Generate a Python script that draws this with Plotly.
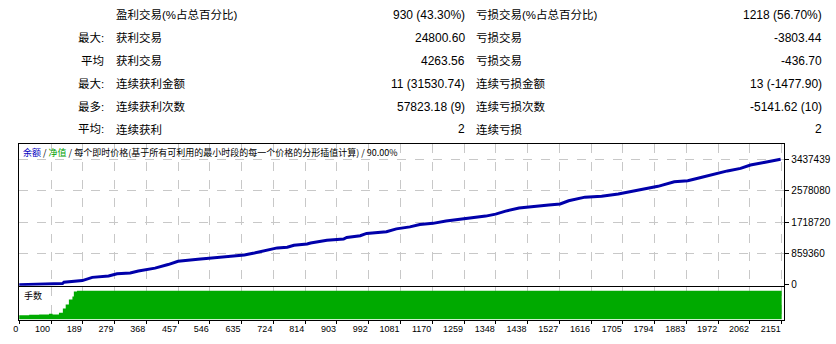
import plotly.graph_objects as go

# ---------------- data ----------------
trade_no = [0, 122, 126, 178, 206, 252, 276, 313, 336, 383, 420, 448, 504, 542, 588, 635,
            663, 700, 728, 756, 775, 812, 822, 868, 915, 924, 962, 980, 1036, 1064, 1102,
            1130, 1167, 1204, 1237, 1270, 1316, 1344, 1372, 1410, 1456, 1494, 1526, 1550,
            1596, 1643, 1690, 1727, 1765, 1802, 1848, 1886, 1923, 1961, 1998, 2035, 2063,
            2101, 2148]
balance = [10000, 40000, 75000, 121000, 209000, 247000, 309000, 328000, 381000, 462000,
           559000, 650000, 704000, 739000, 784000, 819000, 873000, 961000, 1015000,
           1034000, 1088000, 1123000, 1149000, 1222000, 1257000, 1302000, 1348000,
           1410000, 1456000, 1536000, 1590000, 1652000, 1686000, 1751000, 1786000,
           1840000, 1885000, 1939000, 2020000, 2108000, 2162000, 2189000, 2216000,
           2304000, 2403000, 2430000, 2492000, 2565000, 2637000, 2699000, 2825000,
           2852000, 2941000, 3040000, 3121000, 3190000, 3282000, 3352000, 3437439]

lots_trade = [0, 28, 56, 84, 94, 112, 123, 131, 140, 150, 154, 163, 2151]
lots = [1.4, 1.55, 1.7, 1.9, 1.7, 2.3, 3.8, 5.2, 6.9, 8.0, 9.7, 10.0, 10.0]

x_tick_labels = ["0", "100", "189", "279", "368", "457", "546", "635", "724", "814", "903",
                 "992", "1081", "1170", "1259", "1348", "1438", "1527", "1616", "1705",
                 "1794", "1883", "1972", "2062", "2151"]
y_tick_vals = [0, 859360, 1718720, 2578080, 3437439]
y_tick_labels = ["0", "859360", "1718720", "2578080", "3437439"]

stat_labels_a = ["", "最大:", "平均", "最大:", "最多:", "平均:"]
stat_names_win = ["盈利交易(%占总百分比)", "获利交易", "获利交易", "连续获利金额", "连续获利次数", "连续获利"]
stat_vals_win = ["930 (43.30%)", "24800.60", "4263.56", "11 (31530.74)", "57823.18 (9)", "2"]
stat_names_loss = ["亏损交易(%占总百分比)", "亏损交易", "亏损交易", "连续亏损金额", "连续亏损次数", "连续亏损"]
stat_vals_loss = ["1218 (56.70%)", "-3803.44", "-436.70", "13 (-1477.90)", "-5141.62 (10)", "2"]

legend_text = ('<span style="color:#0000C0">余额</span> / '
               '<span style="color:#00A000">净值</span> / '
               '每个即时价格(基于所有可利用的最小时段的每一个价格的分形插值计算) / 90.00%')
panel_label = "手数"

# ---------------- layout constants ----------------
W, H = 836, 344
FONT = "Liberation Sans, Arial, Noto Sans CJK SC, sans-serif"
CJK = "Noto Sans CJK SC, Liberation Sans, sans-serif"

def py(px):
    return 1 - px / H

def pxx(px):
    return px / W

n_int = len(x_tick_labels) - 1
x_last = float(x_tick_labels[-1])
x_tick_pos = [i * x_last / n_int for i in range(n_int + 1)]
x_range = [-1, 2158.6]

fig = go.Figure()
fig.add_trace(go.Scatter(x=trade_no, y=balance, mode="lines",
                         line=dict(color="#0000AA", width=3), xaxis="x", yaxis="y",
                         hoverinfo="skip"))
fig.add_trace(go.Scatter(x=lots_trade, y=lots, mode="lines", line_shape="hv",
                         line=dict(color="#00AA00", width=0), fill="tozeroy",
                         fillcolor="#00AA00", xaxis="x2", yaxis="y2", hoverinfo="skip"))

grid = dict(showgrid=True, gridcolor="#C8C8C8", griddash="dash", gridwidth=1)
border = dict(showline=True, linecolor="black", linewidth=1, mirror=True, zeroline=False)

fig.update_layout(
    width=W, height=H, margin=dict(l=0, r=0, t=0, b=0),
    paper_bgcolor="white", plot_bgcolor="white", showlegend=False,
    font=dict(family=FONT, size=10, color="black"),
    xaxis=dict(domain=[pxx(13), pxx(784)], range=x_range, anchor="y",
               tickvals=x_tick_pos, showticklabels=False, ticks="", **grid, **border),
    yaxis=dict(domain=[py(290), py(146)], range=[-21568, 3860672], side="right",
               tickvals=y_tick_vals, ticktext=y_tick_labels, ticks="outside", ticklen=4,
               tickcolor="black", tickfont=dict(size=10, family=FONT), **grid, **border),
    xaxis2=dict(domain=[pxx(13), pxx(784)], range=x_range, anchor="y2",
                tickvals=x_tick_pos, ticktext=x_tick_labels, ticks="outside", ticklen=3,
                tickcolor="black", ticklabelposition="outside left",
                tickfont=dict(size=9, family=FONT), **grid, **border),
    yaxis2=dict(domain=[py(324.5), py(291.5)], range=[-0.17, 11.2], anchor="x2",
                showticklabels=False, ticks="", showgrid=False, **border),
)

ann = []
row_y = [15, 38.3, 61.7, 85, 108.3, 131]
for i, yv in enumerate(row_y):
    for txt, x, anc, sz in [(stat_labels_a[i], 101, "right", 11.5),
                            (stat_names_win[i], 109, "left", 11.5),
                            (stat_vals_win[i], 464, "right", 12),
                            (stat_names_loss[i], 471, "left", 11.5),
                            (stat_vals_loss[i], 824, "right", 12)]:
        if txt:
            ann.append(dict(text=txt, x=pxx(x), y=py(yv), xref="paper", yref="paper",
                            xanchor=anc, yanchor="middle", showarrow=False,
                            font=dict(size=sz, family=FONT, color="black")))
ann.append(dict(text=legend_text, x=pxx(15), y=py(155), xref="paper", yref="paper",
                xanchor="left", yanchor="middle", showarrow=False,
                font=dict(size=9, family=CJK, color="black")))
ann.append(dict(text=panel_label, x=pxx(16), y=py(300), xref="paper", yref="paper",
                xanchor="left", yanchor="middle", showarrow=False,
                font=dict(size=9, family=CJK, color="black")))
fig.update_layout(annotations=ann)

fig.write_html("out.html")
